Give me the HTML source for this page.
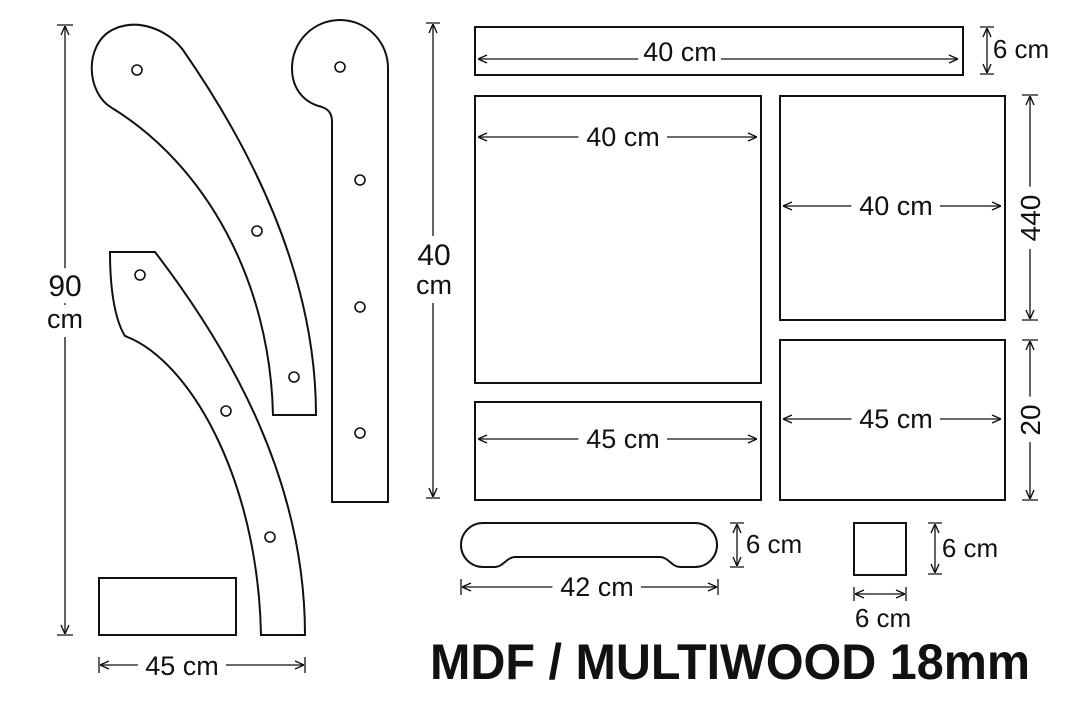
<!DOCTYPE html>
<html><head><meta charset="utf-8"><style>
html,body{margin:0;padding:0;background:#fff}
svg{display:block}
text{font-family:"Liberation Sans",sans-serif;fill:#111}
.d{font-size:27px;stroke:#fff;stroke-width:18px;stroke-linejoin:round;paint-order:stroke;text-anchor:middle}
</style></head><body>
<svg width="1080" height="720" viewBox="0 0 1080 720" xmlns="http://www.w3.org/2000/svg">
<defs>
<marker id="a" viewBox="0 0 10 10" refX="10" refY="5" markerWidth="10" markerHeight="10" orient="auto-start-reverse" markerUnits="userSpaceOnUse">
<path d="M1,1 L10,5 L1,9" fill="none" stroke="#111" stroke-width="1.4"/>
</marker>
</defs>
<g fill="none" stroke="#111" stroke-width="2">
<path d="M183,50 C235,125 316,260 316,415 L273,415 C270,280 205,165 112,108 C86,93 84,45 112,30 C138,17 168,30 183,50 Z"/>
<path d="M388,502 L388,68 A48,48 0 0 0 292,68 C292,90 305,103 322,107 C330,110 332,115 332,122 L332,502 Z"/>
<path d="M110,252 L155,252 C230,350 305,480 305,635 L261,635 C258,480 190,360 125,336 C115,320 110,290 110,252 Z"/>
<rect x="99" y="578" width="137" height="57"/>
<g stroke-width="1.6">
<circle cx="137" cy="70" r="5"/><circle cx="257" cy="231" r="5"/><circle cx="294" cy="377" r="5"/>
<circle cx="340" cy="67" r="5"/><circle cx="360" cy="180" r="5"/><circle cx="360" cy="307" r="5"/><circle cx="360" cy="433" r="5"/>
<circle cx="140" cy="275" r="5"/><circle cx="226" cy="411" r="5"/><circle cx="270" cy="537" r="5"/>
</g>
<rect x="475" y="96" width="286" height="287"/>
<rect x="780" y="96" width="225" height="224"/>
<rect x="475" y="402" width="286" height="98"/>
<rect x="780" y="340" width="225" height="160"/>
<path d="M483,523 L695,523 A22,22 0 0 1 695,567 L680,567 C672,567 668,557 660,557 L515,557 C507,557 503,567 495,567 L483,567 A22,22 0 0 1 483,523 Z"/>
<rect x="854" y="523" width="52" height="52"/>
</g>
<g fill="none" stroke="#111" stroke-width="1.3">
<line x1="65" y1="26" x2="65" y2="634" marker-start="url(#a)" marker-end="url(#a)"/>
<path d="M57,25 H73 M57,635 H73"/>
<line x1="100" y1="665" x2="304" y2="665" marker-start="url(#a)" marker-end="url(#a)"/>
<path d="M99,657 V673 M305,657 V673"/>
<line x1="433" y1="24" x2="433" y2="497" marker-start="url(#a)" marker-end="url(#a)"/>
<path d="M426,23 H440 M426,498 H440"/>
<line x1="478" y1="59" x2="958" y2="59" marker-start="url(#a)" marker-end="url(#a)"/>
<line x1="987" y1="28" x2="987" y2="73" marker-start="url(#a)" marker-end="url(#a)"/>
<path d="M980,27 H994 M980,74 H994"/>
<line x1="478" y1="137" x2="757" y2="137" marker-start="url(#a)" marker-end="url(#a)"/>
<line x1="783" y1="206" x2="1001" y2="206" marker-start="url(#a)" marker-end="url(#a)"/>
<line x1="1030" y1="96" x2="1030" y2="319" marker-start="url(#a)" marker-end="url(#a)"/>
<path d="M1022,95 H1038 M1022,320 H1038"/>
<line x1="478" y1="439" x2="757" y2="439" marker-start="url(#a)" marker-end="url(#a)"/>
<line x1="783" y1="419" x2="1001" y2="419" marker-start="url(#a)" marker-end="url(#a)"/>
<line x1="1030" y1="341" x2="1030" y2="499" marker-start="url(#a)" marker-end="url(#a)"/>
<path d="M1022,340 H1038 M1022,500 H1038"/>
<line x1="737" y1="524" x2="737" y2="566" marker-start="url(#a)" marker-end="url(#a)"/>
<path d="M730,523 H744 M730,567 H744"/>
<line x1="462" y1="587" x2="717" y2="587" marker-start="url(#a)" marker-end="url(#a)"/>
<path d="M461,579 V595 M718,579 V595"/>
<line x1="935" y1="524" x2="935" y2="573" marker-start="url(#a)" marker-end="url(#a)"/>
<path d="M928,523 H942 M928,574 H942"/>
<line x1="855" y1="594" x2="905" y2="594" marker-start="url(#a)" marker-end="url(#a)"/>
<path d="M854,587 V601 M906,587 V601"/>
</g>
<text class="d" x="65" y="296" style="font-size:30px">90</text>
<text class="d" x="65" y="328">cm</text>
<text class="d" x="182" y="675">45 cm</text>
<text class="d" x="434" y="265" style="font-size:30px">40</text>
<text class="d" x="434" y="294">cm</text>
<text class="d" x="680" y="61" style="stroke-width:12px">40 cm</text>
<rect x="475" y="27" width="488" height="48" fill="none" stroke="#111" stroke-width="2"/>
<text x="1021" y="58" style="font-size:26px;text-anchor:middle">6 cm</text>
<text class="d" x="623" y="146">40 cm</text>
<text class="d" x="896" y="215">40 cm</text>
<text class="d" transform="translate(1040,218) rotate(-90)" style="font-size:28px">440</text>
<text class="d" x="623" y="448">45 cm</text>
<text class="d" x="896" y="428">45 cm</text>
<text class="d" transform="translate(1040,420) rotate(-90)" style="font-size:28px">20</text>
<text x="774" y="553" style="font-size:26px;text-anchor:middle">6 cm</text>
<text class="d" x="597" y="596">42 cm</text>
<text x="970" y="557" style="font-size:26px;text-anchor:middle">6 cm</text>
<text x="883" y="627" style="font-size:26px;text-anchor:middle">6 cm</text>
<text x="430" y="679" textLength="600" lengthAdjust="spacingAndGlyphs" style="font-size:50px;font-weight:bold">MDF / MULTIWOOD 18mm</text>
</svg>
</body></html>
